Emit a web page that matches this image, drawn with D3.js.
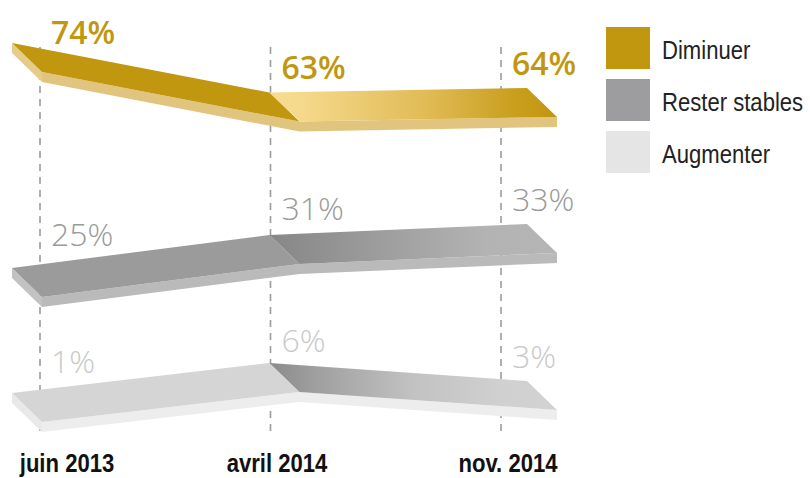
<!DOCTYPE html>
<html>
<head>
<meta charset="utf-8">
<script src="https://cdn.jsdelivr.net/npm/d3@7"></script>
<style>
  body { margin: 0; background: #fff; }
  svg { display: block; }
</style>
</head>
<body>
<svg id="chart" width="810" height="478"></svg>
<script>
// ---- data ----
const periods = ["juin 2013", "avril 2014", "nov. 2014"];
const seriesNames = ["Diminuer", "Rester stables", "Augmenter"];
const diminuer = [74, 63, 64];
const resterStables = [25, 31, 33];
const augmenter = [1, 6, 3];

// ---- layout & styles ----
const W = 810, H = 478;
const depth = { dx: 30, dy: 29, t: 10 };
const narrowFont = "'Liberation Sans', Arial, sans-serif";
const narrowScale = 0.85;           // horizontal squeeze for the condensed look
const labelFont = "'Open Sans', 'Liberation Sans', sans-serif";

const bands = [
  {
    name: seriesNames[0], values: diminuer,
    y: d3.scaleLinear().domain([0, 100]).range([376, -74]),
    top: "#C0970F", side: "#E1C57F", cap: "#E6CC8C",
    grad: [[0, "#F7DC90"], [0.12, "#F5D88A"], [0.55, "#E0BB55"], [0.85, "#C99F1E"], [1, "#C0960F"]],
    label: "#C0970F", weight: 600, legend: "#C0970F"
  },
  {
    name: seriesNames[1], values: resterStables,
    y: d3.scaleLinear().domain([0, 100]).range([405.5, -144.5]),
    top: "#9B9B9B", side: "#BABABA", cap: "#C2C2C2",
    grad: [[0, "#878787"], [0.2, "#929292"], [0.75, "#B3B3B3"], [1, "#B5B5B5"]],
    label: "#9A9A9A", weight: 300, legend: "#9D9D9F"
  },
  {
    name: seriesNames[2], values: augmenter,
    y: d3.scaleLinear().domain([0, 100]).range([399, -201]),
    top: "#D5D5D5", side: "#EDEDED", cap: "#E9E9E9",
    grad: [[0, "#8A8A8A"], [0.15, "#9E9E9E"], [0.5, "#C2C2C2"], [0.8, "#D0D0D0"], [1, "#D2D2D2"]],
    label: "#C9C9C9", weight: 300, legend: "#E5E5E5"
  }
];

// ---- scales ----
const gridX = d3.scalePoint().domain(periods).range([40, 501]);
const ribbonX = d3.scalePoint().domain(periods).range([12, 527]);
const tickX = d3.scaleOrdinal().domain(periods).range([67, 277, 508]);

const svg = d3.select("#chart");
svg.append("rect").attr("width", W).attr("height", H).attr("fill", "#fff");
const defs = svg.append("defs");

// ---- dashed period guides ----
svg.append("g").selectAll("line").data(periods).join("line")
  .attr("x1", d => gridX(d)).attr("x2", d => gridX(d))
  .attr("y1", 47).attr("y2", 437)
  .attr("stroke", "#9c9c9c").attr("stroke-width", 1.6)
  .attr("stroke-dasharray", "7,6");

// ---- ribbons ----
const closed = d3.line().curve(d3.curveLinearClosed);
const down = p => [p[0], p[1] + depth.t];
const labelLayer = svg.append("g");

bands.forEach((band, bi) => {
  const g = svg.append("g");
  const B = periods.map((p, i) => [ribbonX(p), band.y(band.values[i])]);
  const F = B.map(p => [p[0] + depth.dx, p[1] + depth.dy]);
  // height of the ribbon's back edge at any x
  const edgeY = d3.scaleLinear().domain(B.map(p => p[0])).range(B.map(p => p[1])).clamp(true);

  const gid = "seg2-" + bi;
  defs.append("linearGradient").attr("id", gid)
    .attr("gradientUnits", "userSpaceOnUse")
    .attr("x1", B[1][0]).attr("x2", F[2][0]).attr("y1", 0).attr("y2", 0)
    .selectAll("stop").data(band.grad).join("stop")
    .attr("offset", d => d[0]).attr("stop-color", d => d[1]);

  // left end cap
  g.append("path").attr("d", closed([B[0], F[0], down(F[0]), down(B[0])])).attr("fill", band.cap);
  // front thickness
  g.append("path").attr("d", closed([F[0], F[1], F[2], down(F[2]), down(F[1]), down(F[0])])).attr("fill", band.side);
  // upper face, first leg
  g.append("path").attr("d", closed([B[0], B[1], F[1], F[0]])).attr("fill", band.top);
  // upper face, second leg
  g.append("path").attr("d", closed([B[1], B[2], F[2], F[1]])).attr("fill", `url(#${gid})`);

  // value labels, sitting just above the back edge
  labelLayer.raise();
  const lbl = svg.append("g").selectAll("text").data(band.values).join("text")
    .attr("x", (d, i) => gridX(periods[i]) + 11)
    .attr("font-family", labelFont)
    .attr("font-size", 32)
    .attr("font-weight", band.weight)
    .attr("fill", band.label)
    .text(d => d + "%");
  lbl.attr("y", function () {
    const bb = this.getBBox();
    return edgeY(bb.x + bb.width / 2) - 13;
  });
});

// ---- period labels ----
svg.append("g").selectAll("text").data(periods).join("text")
  .attr("transform", d => `translate(${tickX(d)},472) scale(${narrowScale},1)`)
  .attr("text-anchor", "middle")
  .attr("font-family", narrowFont).attr("font-weight", 700).attr("font-size", 26)
  .attr("fill", "#111")
  .text(d => d);

// ---- legend ----
const legend = svg.append("g").attr("transform", "translate(606,27)");
const item = legend.selectAll("g").data(bands).join("g")
  .attr("transform", (d, i) => `translate(0,${i * 52})`);
item.append("rect").attr("width", 44).attr("height", 42).attr("fill", d => d.legend);
item.append("text")
  .attr("transform", `translate(56,32) scale(${narrowScale},1)`)
  .attr("font-family", narrowFont).attr("font-size", 26)
  .attr("fill", "#222")
  .text(d => d.name);
</script>
</body>
</html>
